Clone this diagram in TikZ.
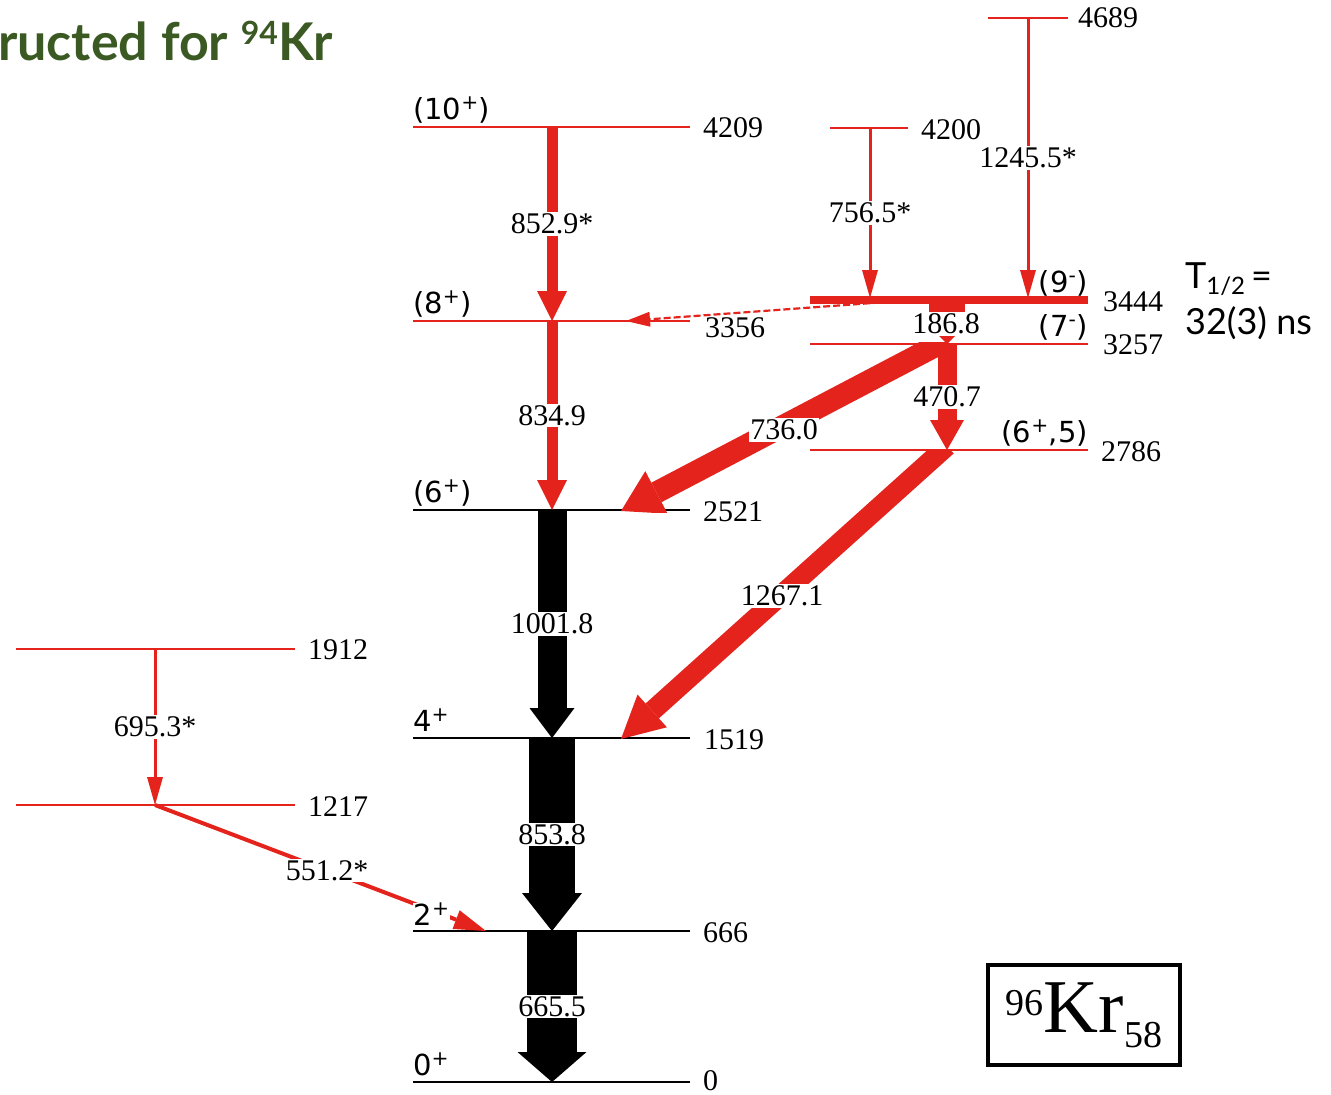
\documentclass[tikz,border=0pt]{standalone}
\usepackage{fontspec}
\setmainfont{Liberation Serif}
\newfontfamily\spinfont{DejaVu Sans}
\newfontfamily\slidefont{Lato}
\usetikzlibrary{arrows.meta}
\definecolor{lvred}{RGB}{228,35,28}
\definecolor{ttlgreen}{RGB}{59,90,35}
\newcommand{\spsup}[1]{\textsuperscript{#1}}
\begin{document}
\begin{tikzpicture}[x=1pt,y=-1pt,
  lvl/.style={line width=2.2pt},
  lvr/.style={lvl, draw=lvred},
  lvb/.style={lvl, draw=black},
  en/.style={anchor=west, inner sep=0pt, font=\fontsize{30}{30}\selectfont},
  gl/.style={fill=white, inner sep=1.5pt, font=\fontsize{30}{30}\selectfont},
  spl/.style={anchor=base west, inner sep=0pt, font=\spinfont\fontsize{29}{29}\selectfont},
  spr/.style={anchor=base east, inner sep=0pt, font=\spinfont\fontsize{29}{29}\selectfont},
  gam/.style n args={4}{draw=#1, line width=#2, -{Triangle[width=#3,length=#4,line width=0pt]}},
]
\useasboundingbox (0,0) rectangle (1331,1095);

% ---------- levels ----------
\draw[lvb] (413,1082) coordinate (l0a) -- (690,1082) coordinate (l0b);
\draw[lvb] (413,931) coordinate (l666a) -- (690,931) coordinate (l666b);
\draw[lvb] (413,738) coordinate (l1519a) -- (690,738) coordinate (l1519b);
\draw[lvb] (413,510) coordinate (l2521a) -- (690,510) coordinate (l2521b);
\draw[lvr] (413,321) coordinate (l3356a) -- (690,321) coordinate (l3356b);
\draw[lvr] (413,127) coordinate (l4209a) -- (690,127) coordinate (l4209b);
\draw[lvr] (16,649) coordinate (l1912a) -- (295,649) coordinate (l1912b);
\draw[lvr] (16,805) coordinate (l1217a) -- (295,805) coordinate (l1217b);
\draw[lvr] (830,128) coordinate (l4200a) -- (908,128) coordinate (l4200b);
\draw[lvr] (988,18) coordinate (l4689a) -- (1068,18) coordinate (l4689b);
\draw[draw=lvred, line width=8pt] (810,300) coordinate (l3444a) -- (1088,300) coordinate (l3444b);
\draw[lvr] (810,344) coordinate (l3257a) -- (1088,344) coordinate (l3257b);
\draw[lvr] (810,450) coordinate (l2786a) -- (1088,450) coordinate (l2786b);

% ---------- transition end points ----------
\coordinate (g0) at (552,1082);
\coordinate (g666) at (552,931);
\coordinate (g1519) at (552,738);
\coordinate (g2521) at (552,510);
\coordinate (g3356) at (552,321);
\coordinate (g4209) at (552,127);
\coordinate (h1912) at (155,649);
\coordinate (h1217) at (155,805);
\coordinate (h666) at (486,931);
\coordinate (k4200) at (870,128);
\coordinate (k3444a) at (870,298);
\coordinate (k4689) at (1028,18);
\coordinate (k3444b) at (1028,298);
\coordinate (m3444) at (947,300);
\coordinate (m3257) at (947,344);
\coordinate (m3257t) at (947,340);
\coordinate (m2786) at (947,450);
\coordinate (m2786t) at (947,446);
\coordinate (k2521) at (621,511);
\coordinate (k1519) at (621,739);
\coordinate (d3444) at (900,301);
\coordinate (d3356) at (626,321);

% ---------- transitions ----------
\draw[gam={black}{29pt}{45pt}{30pt}] (g2521) -- (g1519) node[gl,pos=0.5] (t1001) {1001.8};
\draw[gam={black}{46pt}{60pt}{38pt}] (g1519) -- (g666) node[gl,pos=0.5] (t853) {853.8};
\draw[gam={black}{50pt}{69pt}{30pt}] (g666) -- (g0) node[gl,pos=0.5] (t665) {665.5};
\draw[gam={lvred}{11pt}{30pt}{30pt}] (g4209) -- (g3356) node[gl,pos=0.5] (t852) {852.9*};
\draw[gam={lvred}{11pt}{30pt}{30pt}] (g3356) -- (g2521) node[gl,pos=0.5] (t834) {834.9};
\draw[gam={lvred}{3pt}{16pt}{28pt}] (h1912) -- (h1217) node[gl,pos=0.5] (t695) {695.3*};
\draw[gam={lvred}{4pt}{20pt}{32pt}] (h1217) -- (h666) node[gl,pos=0.52] (t551) {551.2*};
\draw[gam={lvred}{3pt}{16pt}{28pt}] (k4200) -- (k3444a) node[gl,pos=0.5] (t756) {756.5*};
\draw[gam={lvred}{3pt}{16pt}{28pt}] (k4689) -- (k3444b) node[gl,pos=0.5] (t1245) {1245.5*};
\draw[gam={lvred}{2.2pt}{15pt}{24pt}, dash pattern=on 7pt off 3pt] (d3444) -- (d3356);
\draw[gam={lvred}{36pt}{44pt}{22pt}] (m3444) -- (m3257);
\draw[gam={lvred}{19pt}{34pt}{30pt}] (m3257) -- (m2786) node[gl,pos=0.5] (t470) {470.7};
\begin{scope}
  \clip (0,342) rectangle (1331,512.5);
  \draw[gam={lvred}{22pt}{48pt}{40pt}] (m3257t) -- (k2521);
\end{scope}
\begin{scope}
  \clip (0,449) rectangle (1331,1095);
  \draw[gam={lvred}{20pt}{44pt}{42pt}] (m2786t) -- (k1519);
\end{scope}
\node[gl] (t736) at (784,430) {736.0};
\node[gl] (t1267) at (782,596) {1267.1};
\node[gl] (t186) at (946,324) {186.8};

% ---------- energies ----------
\node[en] (e0) at (703,1081) {0};
\node[en] (e666) at (703,933) {666};
\node[en] (e1519) at (704,740) {1519};
\node[en] (e2521) at (703,512) {2521};
\node[en] (e3356) at (705,328) {3356};
\node[en] (e4209) at (703,128) {4209};
\node[en] (e1912) at (308,650) {1912};
\node[en] (e1217) at (308,807) {1217};
\node[en] (e4200) at (921,130) {4200};
\node[en] (e4689) at (1078,18) {4689};
\node[en] (e3444) at (1103,302) {3444};
\node[en] (e3257) at (1103,345) {3257};
\node[en] (e2786) at (1101,452) {2786};

% ---------- spins ----------
\node[spl] (s4209) at (413,119) {(10\spsup{+})};
\node[spl] (s3356) at (413,313) {(8\spsup{+})};
\node[spl] (s2521) at (413,502) {(6\spsup{+})};
\node[spl] (s1519) at (413,731) {4\spsup{+}};
\node[spl, fill=white, inner sep=0.5pt] (s666) at (413,925) {2\spsup{+}};
\node[spl] (s0) at (413,1075) {0\spsup{+}};
\node[spr] (s3444) at (1088,292) {(9\spsup{-})};
\node[spr] (s3257) at (1088,336) {(7\spsup{-})};
\node[spr] (s2786) at (1088,442) {(6\spsup{+},5)};

% ---------- half-life ----------
\node[anchor=base west, inner sep=0pt, font=\slidefont\fontsize{36}{36}\selectfont] (thalf) at (1185,288)
  {T\raisebox{-6pt}{\fontsize{24}{24}\selectfont 1/2}\hspace{6pt}=};
\node[anchor=base west, inner sep=0pt, font=\slidefont\fontsize{36}{36}\selectfont] (tval) at (1185,334)
  {32(3) ns};

% ---------- title ----------
\node[anchor=base west, inner sep=0pt, text=ttlgreen, font=\slidefont\bfseries\fontsize{52}{52}\selectfont] (title) at (-2,60)
  {ructed for {\fontsize{32}{32}\selectfont\raisebox{16pt}{94}}Kr};

% ---------- nucleus box ----------
\node[draw, line width=4pt, minimum width=192pt, minimum height=100pt, inner sep=0pt] (kr96) at (1084,1015)
  {\raisebox{17pt}{\fontsize{38}{38}\selectfont 96}\fontsize{76}{76}\selectfont Kr\raisebox{-15pt}{\fontsize{38}{38}\selectfont 58}};
\end{tikzpicture}
\end{document}
